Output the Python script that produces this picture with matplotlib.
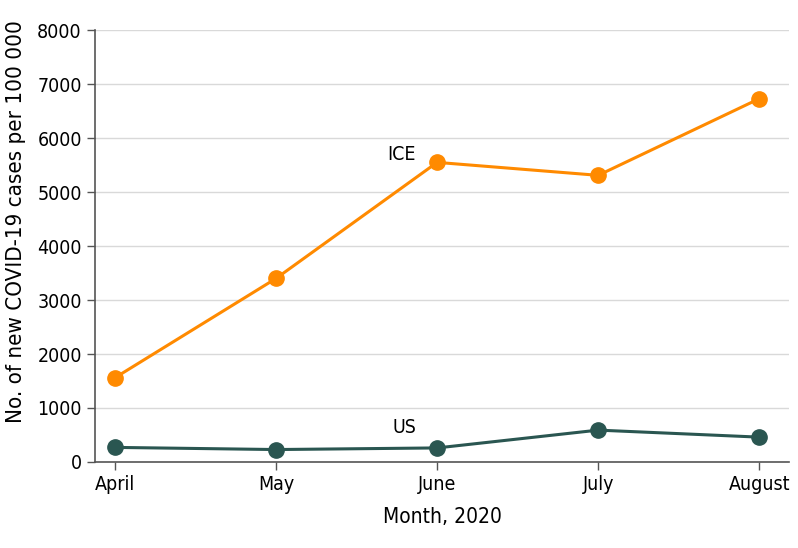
import matplotlib
matplotlib.use("Agg")
import matplotlib.pyplot as plt

months = ["April", "May", "June", "July", "August"]
ice_cases = [1560, 3400, 5550, 5310, 6730]
us_cases = [270, 230, 260, 590, 460]

ice_color = "#FF8A00"
us_color = "#2A5651"

plt.rcParams["font.family"] = ["DejaVu Sans"]
plt.rcParams["font.stretch"] = "condensed"

fig = plt.figure(figsize=(7.98, 5.48), dpi=100)
ax = fig.add_axes([0.119, 0.157, 0.870, 0.788])

x = list(range(len(months)))
ax.plot(x, ice_cases, color=ice_color, lw=2.2, marker="o", ms=11, zorder=3)
ax.plot(x, us_cases, color=us_color, lw=2.2, marker="o", ms=11, zorder=3)

ax.text(1.78, 5690, "ICE", fontsize=14, ha="center", va="center")
ax.text(1.80, 640, "US", fontsize=14, ha="center", va="center")

ax.set_xlim(-0.124, 4.186)
ax.set_ylim(0, 8000)
ax.set_yticks(range(0, 8001, 1000))
ax.set_xticks(x)
ax.set_xticklabels(months)
ax.yaxis.grid(True, color="#d9d9d9", lw=1)
ax.set_axisbelow(True)

for side in ["top", "right"]:
    ax.spines[side].set_visible(False)
for side in ["left", "bottom"]:
    ax.spines[side].set_color("#555555")
    ax.spines[side].set_linewidth(1.2)

ax.tick_params(axis="both", labelsize=14, length=6, color="#555555", width=1)
ax.set_xlabel("Month, 2020", fontsize=15, labelpad=9)
ax.set_ylabel("No. of new COVID-19 cases per 100 000", fontsize=16)
ax.yaxis.set_label_coords(-0.1, 0.556)

fig.savefig("out.png", dpi=100)
